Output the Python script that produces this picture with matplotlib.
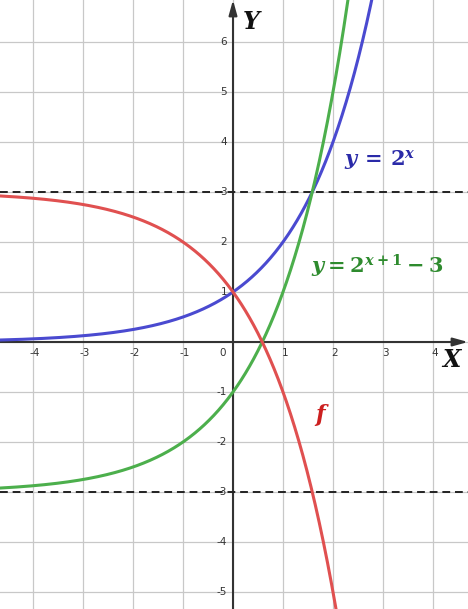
import numpy as np
import matplotlib
matplotlib.use("Agg")
import matplotlib.pyplot as plt

# ---- data ----
x_ticks = [-4, -3, -2, -1, 1, 2, 3, 4]
y_ticks = [-5, -4, -3, -2, -1, 1, 2, 3, 4, 5, 6]
asymptotes = [3, -3]
labels = {"blue": r"$y\,=\,2^{x}$",
          "green": r"$y = 2^{x+1} - 3$",
          "red": r"$f$"}

x = np.linspace(-4.66, 4.70, 800)
blue = 2.0 ** x
green = 2.0 ** (x + 1) - 3
red = 3 - 2.0 ** (x + 1)

plt.rcParams['mathtext.fontset'] = 'custom'
plt.rcParams['mathtext.rm'] = 'DejaVu Serif:bold'
plt.rcParams['mathtext.it'] = 'DejaVu Serif:italic:bold'
plt.rcParams['mathtext.bf'] = 'DejaVu Serif:bold'

fig = plt.figure(figsize=(4.68, 6.09), dpi=100)
ax = fig.add_axes([0, 0, 1, 1])
ax.set_xlim(-4.66, 4.70)
ax.set_ylim(-5.34, 6.84)
ax.set_axis_off()

# grid
for gx in range(-4, 5):
    ax.axvline(gx, color='#c8c8c8', lw=0.9, zorder=0)
for gy in range(-5, 7):
    ax.axhline(gy, color='#c8c8c8', lw=0.9, zorder=0)

# axes with arrows
ax.annotate('', xy=(4.70, 0), xytext=(-4.66, 0),
            arrowprops=dict(arrowstyle='-|>,head_length=0.9,head_width=0.25', color='#333333', lw=1.5, shrinkA=0, shrinkB=0), zorder=2)
ax.annotate('', xy=(0, 6.84), xytext=(0, -5.34),
            arrowprops=dict(arrowstyle='-|>,head_length=0.9,head_width=0.25', color='#333333', lw=1.5, shrinkA=0, shrinkB=0), zorder=2)

# tick labels
for t in x_ticks:
    ax.text(t + 0.04, -0.12, str(t), ha='center', va='top', fontsize=7.5, color='#333333')
for t in y_ticks:
    ax.text(-0.12, t, str(t), ha='right', va='center', fontsize=7.5, color='#333333')
ax.text(-0.2, -0.12, '0', ha='center', va='top', fontsize=7.5, color='#333333')

# asymptotes
for a in asymptotes:
    ax.axhline(a, color='#222222', lw=1.4, ls=(0, (4, 2.5)), zorder=3)

# curves
ax.plot(x, blue, color='#4a4ad0', lw=2.2, zorder=4)
ax.plot(x, green, color='#4caf4c', lw=2.2, zorder=4)
ax.plot(x, red, color='#e05050', lw=2.2, zorder=4)

# labels
ax.text(2.94, 3.64, labels["blue"], color='#2a2aa8', fontsize=15, ha='center', va='center')
ax.text(2.88, 1.52, labels["green"], color='#2e8b2e', fontsize=15, ha='center', va='center')
ax.text(1.78, -1.46, labels["red"], color='#cc2020', fontsize=16, ha='center', va='center')

ax.text(4.38, -0.36, r'$X$', fontsize=17, ha='center', va='center', color='#111111')
ax.text(0.38, 6.4, r'$Y$', fontsize=17, ha='center', va='center', color='#111111')

fig.savefig('out.png', dpi=100)
